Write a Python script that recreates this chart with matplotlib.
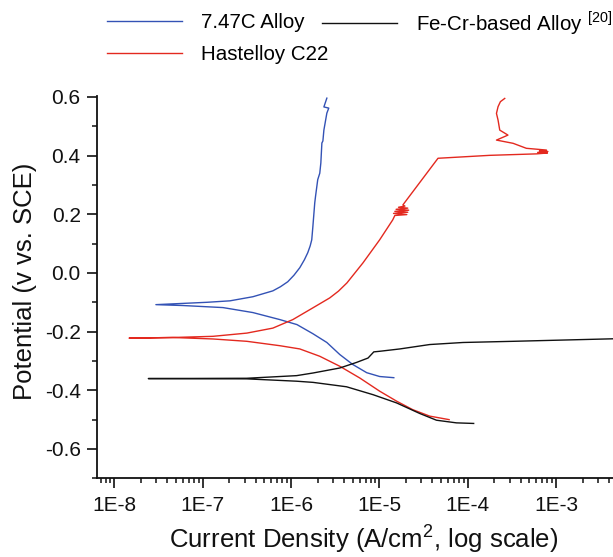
import matplotlib.pyplot as plt
import numpy as np
from matplotlib.ticker import LogLocator, FuncFormatter, MultipleLocator, NullFormatter

# polarization curves: current density (A/cm2) vs potential (V vs SCE)
# each curve = cathodic branch + anodic branch, both starting at Ecorr

# 7.47C Alloy
blue_cath_i = [2.96e-8, 6.0e-8, 1.70e-7, 3.71e-7, 7.50e-7, 1.17e-6, 1.77e-6, 2.55e-6,
               3.57e-6, 5.01e-6, 7.21e-6, 1.01e-5, 1.46e-5]
blue_cath_e = [-0.108, -0.111, -0.118, -0.135, -0.159, -0.176, -0.207, -0.237,
               -0.278, -0.312, -0.340, -0.353, -0.357]
blue_anod_i = [2.96e-8, 1.12e-7, 2.04e-7, 3.71e-7, 6.24e-7, 7.6e-7, 9.20e-7, 1.08e-6,
               1.26e-6, 1.42e-6, 1.55e-6, 1.65e-6, 1.72e-6, 1.77e-6, 1.86e-6, 1.90e-6,
               2.01e-6, 2.12e-6, 2.18e-6, 2.24e-6, 2.30e-6, 2.36e-6, 2.55e-6,
               2.68e-6, 2.36e-6, 2.55e-6]
blue_anod_e = [-0.108, -0.100, -0.095, -0.081, -0.061, -0.047, -0.030, -0.008,
               0.018, 0.045, 0.069, 0.092, 0.113, 0.157, 0.239, 0.262,
               0.318, 0.340, 0.375, 0.443, 0.450, 0.487, 0.545,
               0.562, 0.566, 0.596]

# Hastelloy C22
red_cath_i = [1.48e-8, 4.61e-8, 1.31e-7, 3.17e-7, 7.50e-7, 1.26e-6, 2.12e-6, 3.57e-6,
              6.01e-6, 1.01e-5, 1.57e-5, 2.39e-5, 3.72e-5, 6.17e-5]
red_cath_e = [-0.222, -0.220, -0.225, -0.233, -0.248, -0.259, -0.284, -0.318,
              -0.358, -0.403, -0.437, -0.466, -0.488, -0.500]
red_anod_i = [1.48e-8, 4.61e-8, 1.31e-7, 3.17e-7, 6.24e-7, 1.05e-6, 1.77e-6, 2.75e-6,
              3.45e-6, 4.30e-6, 6.52e-6, 1.01e-5, 1.42e-5,
              1.50e-5, 2.05e-5, 1.45e-5, 2.10e-5, 1.50e-5, 2.15e-5, 1.55e-5, 2.10e-5,
              1.65e-5, 1.95e-5, 1.85e-5,
              4.62e-5, 1.78e-4, 6.0e-4, 8.0e-4, 6.2e-4, 8.1e-4, 6.5e-4, 7.8e-4,
              4.62e-4, 3.27e-4, 2.12e-4, 2.86e-4, 2.31e-4, 2.21e-4, 2.12e-4, 2.21e-4,
              2.35e-4, 2.63e-4]
red_anod_e = [-0.222, -0.220, -0.216, -0.205, -0.188, -0.159, -0.119, -0.085,
              -0.062, -0.034, 0.034, 0.113, 0.181,
              0.196, 0.199, 0.203, 0.207, 0.210, 0.214, 0.217, 0.221,
              0.224, 0.228, 0.232,
              0.391, 0.401, 0.406, 0.409, 0.411, 0.414, 0.416, 0.419,
              0.425, 0.442, 0.453, 0.470, 0.487, 0.521, 0.544, 0.567,
              0.584, 0.595]

# Fe-Cr-based Alloy [20]
black_cath_i = [2.43e-8, 3.15e-7, 1.16e-6, 1.78e-6, 4.26e-6, 8.51e-6, 1.57e-5,
                2.87e-5, 4.44e-5, 7.46e-5, 1.17e-4]
black_cath_e = [-0.360, -0.361, -0.369, -0.373, -0.388, -0.415, -0.443,
                -0.479, -0.502, -0.511, -0.513]
black_anod_i = [2.43e-8, 3.15e-7, 1.16e-6, 1.78e-6, 3.57e-6, 5.52e-6, 7.46e-6,
                8.67e-6, 1.01e-5, 1.71e-5, 3.72e-5, 8.87e-5, 3.27e-4, 5.0e-3]
black_anod_e = [-0.360, -0.359, -0.350, -0.341, -0.324, -0.305, -0.290,
                -0.269, -0.267, -0.259, -0.244, -0.237, -0.233, -0.224]

BLUE = '#3352b5'
RED = '#e3291f'
BLACK = '#111111'

plt.rcParams['font.family'] = ['Liberation Sans', 'DejaVu Sans']
plt.rcParams['mathtext.fontset'] = 'custom'
plt.rcParams['mathtext.rm'] = 'Liberation Sans'
plt.rcParams['axes.unicode_minus'] = False

W, H = 613, 557
fig = plt.figure(figsize=(W / 100, H / 100), dpi=100)
ax = fig.add_axes([97.3 / W, (H - 478.3) / H, 1 - 97.3 / W, (478.3 - 95.5) / H])


def branch(ci, ce, ai, ae):
    # join cathodic (reversed) and anodic parts into one trace
    i = list(reversed(ci)) + list(ai[1:])
    e = list(reversed(ce)) + list(ae[1:])
    return i, e


lines = []
for ci, ce, ai, ae, col, lab in [
        (blue_cath_i, blue_cath_e, blue_anod_i, blue_anod_e, BLUE, '7.47C Alloy'),
        (red_cath_i, red_cath_e, red_anod_i, red_anod_e, RED, 'Hastelloy C22'),
        (black_cath_i, black_cath_e, black_anod_i, black_anod_e, BLACK,
         'Fe-Cr-based Alloy $^{[20]}$')]:
    i, e = branch(ci, ce, ai, ae)
    ln, = ax.plot(i, e, color=col, lw=1.0, label=lab)
    lines.append(ln)

ax.set_xscale('log')
ax.set_xlim(6.43e-9, 4.42e-3)
ax.set_ylim(-0.7, 0.605)

ax.xaxis.set_major_locator(LogLocator(base=10, numticks=20))
ax.xaxis.set_minor_locator(LogLocator(base=10, subs=np.arange(2, 10), numticks=20))
ax.xaxis.set_major_formatter(FuncFormatter(lambda v, _: '1E%d' % round(np.log10(v))))
ax.xaxis.set_minor_formatter(NullFormatter())
ax.yaxis.set_major_locator(MultipleLocator(0.2))
ax.yaxis.set_minor_locator(MultipleLocator(0.1))
ax.yaxis.set_major_formatter(FuncFormatter(lambda v, _: '%.1f' % v))

for s in ['top', 'right']:
    ax.spines[s].set_visible(False)
for s in ['left', 'bottom']:
    ax.spines[s].set_linewidth(1.3)
    ax.spines[s].set_color('#111111')

ax.tick_params(axis='both', which='major', direction='out', length=7, width=1.2,
               labelsize=15, colors='#111111')
ax.tick_params(axis='both', which='minor', direction='out', length=3.5, width=1.1,
               colors='#111111')
ax.tick_params(axis='x', which='major', pad=6)
ax.tick_params(axis='y', which='major', pad=5)

ax.set_xlabel('Current Density (A/cm$^{2}$, log scale)', fontsize=18.5, color='#111111')
ax.set_ylabel('Potential (v vs. SCE)', fontsize=18.5, color='#111111')
ax.xaxis.label.set_va('center')
ax.yaxis.label.set_va('center')
ax.xaxis.set_label_coords(0.517, -0.158)
ax.yaxis.set_label_coords(-0.140, 0.515)

# legend split in two blocks, like the original layout
leg_kw = dict(frameon=False, fontsize=14.8, handlelength=3.64, handletextpad=0.95,
              borderpad=0, borderaxespad=0, labelspacing=0.62)
fig.legend(handles=lines[:2], loc='center left',
           bbox_to_anchor=(106.7 / W, 1 - 38.5 / H), **leg_kw)
fig.legend(handles=lines[2:], loc='center left',
           bbox_to_anchor=(321.7 / W, 1 - 23.0 / H), **leg_kw)

fig.savefig('out.png', dpi=100)
